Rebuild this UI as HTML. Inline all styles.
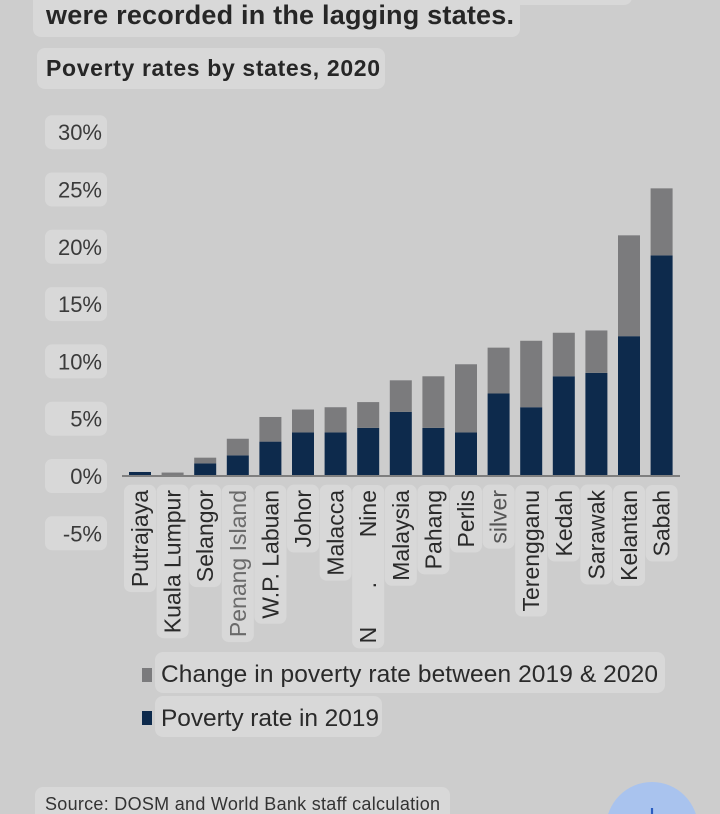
<!DOCTYPE html>
<html><head><meta charset="utf-8">
<style>
html,body{margin:0;padding:0;background:#cdcdcd;width:720px;height:814px;overflow:hidden;}
svg{display:block;font-family:"Liberation Sans","DejaVu Sans",sans-serif;overflow:hidden;}
</style></head>
<body>
<svg id="chart" width="720" height="814" viewBox="0 0 720 814" xmlns="http://www.w3.org/2000/svg">
  <rect x="0" y="0" width="720" height="814" fill="#cdcdcd"/>
  <rect x="370" y="-10" width="262" height="15" rx="8" fill="#d8d8d8"/>
  <rect x="33" y="-10" width="487" height="47" rx="8" fill="#d8d8d8"/>
  <text x="46" y="24" font-size="27" font-weight="bold" fill="#262626" textLength="468">were recorded in the lagging states.</text>
  <rect x="37" y="48" width="348" height="41" rx="8" fill="#d8d8d8"/>
  <text x="46" y="76" font-size="23" font-weight="bold" fill="#262626" textLength="334">Poverty rates by states, 2020</text>
  <g id="yaxis"></g>
  <g id="bars"></g>
  <line x1="122" x2="680" y1="476" y2="476" stroke="#7f7f7f" stroke-width="2"/>
  <g id="xlabels"></g>

  <rect x="155" y="652" width="510" height="41" rx="8" fill="#d8d8d8"/>
  <rect x="142" y="668" width="10" height="14" fill="#7b7b7d"/>
  <text x="161" y="682" font-size="24.5" fill="#2a2a2a" textLength="497">Change in poverty rate between 2019 &amp; 2020</text>
  <rect x="155" y="696" width="227" height="41" rx="8" fill="#d8d8d8"/>
  <rect x="142" y="711" width="10" height="14" fill="#0d2a4c"/>
  <text x="161" y="726" font-size="24.5" fill="#2a2a2a" textLength="218">Poverty rate in 2019</text>

  <rect x="35" y="787" width="415" height="40" rx="8" fill="#d8d8d8"/>
  <text x="45" y="810" font-size="18" fill="#333" textLength="395">Source: DOSM and World Bank staff calculation</text>
  <circle cx="652" cy="828" r="46" fill="#a9c3ee"/>
  <text x="652" y="825" font-size="30" text-anchor="middle" fill="#2a5cc0">+</text>
</svg>
<script>
const categories = ["Putrajaya","Kuala Lumpur","Selangor","Penang Island","W.P. Labuan","Johor","Malacca","N\u00a0\u00a0\u00a0\u00a0\u00a0\u00a0.\u00a0\u00a0\u00a0\u00a0\u00a0\u00a0\u00a0Nine","Malaysia","Pahang","Perlis","silver","Terengganu","Kedah","Sarawak","Kelantan","Sabah"];
const rate2019 = [0.35,0,1.1,1.8,3.0,3.8,3.8,4.2,5.6,4.2,3.8,7.2,6.0,8.7,9.0,12.2,19.25];
const change = [0,0.3,0.5,1.45,2.15,2.0,2.2,2.25,2.75,4.5,5.95,4.0,5.8,3.8,3.7,8.8,5.85];
const yTicks = [30,25,20,15,10,5,0,-5];
const yTickLabels = ["30%","25%","20%","15%","10%","5%","0%","-5%"];

const NS = "http://www.w3.org/2000/svg";
const y0 = 476, pxPer = 57.3/5;
function yScale(v){ return y0 - v*pxPer; }
function xCenter(i){ return 140 + i*32.6; }
const barW = 22;
function mk(tag, attrs){ const e=document.createElementNS(NS,tag); for(const k in attrs) e.setAttribute(k,attrs[k]); return e; }

const yg = document.getElementById('yaxis');
yTicks.forEach((t,i)=>{
  const yy = yScale(t);
  const box = mk('rect',{x:45,y:yy-17,width:62,height:34,rx:7,fill:'#d8d8d8'});
  
  
  yg.appendChild(box);
  const tx = mk('text',{x:102,y:yy+8,'font-size':22,'text-anchor':'end',fill:'#3a3a3a'});
  tx.textContent = yTickLabels[i];
  
  
  yg.appendChild(tx);
});

const bg = document.getElementById('bars');
const lg = document.getElementById('xlabels');
categories.forEach((c,i)=>{
  const xc = xCenter(i);
  const a = rate2019[i], b = change[i];
  if(a>0){
    const r = mk('rect',{x:xc-barW/2,y:yScale(a),width:barW,height:yScale(0)-yScale(a),fill:'#0d2a4c'});
    
    
    bg.appendChild(r);
  }
  if(b>0){
    const r2 = mk('rect',{x:xc-barW/2,y:yScale(a+b),width:barW,height:yScale(a)-yScale(a+b),fill:'#7b7b7d'});
    
    
    bg.appendChild(r2);
  }
  const g = mk('g',{transform:`translate(${xc+8},490) rotate(-90)`});
  const t = mk('text',{x:0,y:0,'font-size':23,'text-anchor':'end',fill: c==="Penang Island" ? '#6a6a6a' : (c==="silver"?'#555':'#2a2a2a')});
  t.textContent = c;
  
  
  g.appendChild(t);
  lg.appendChild(g);
  const bb = t.getBBox();
  const box = mk('rect',{x:bb.x-5,y:bb.y-3,width:bb.width+10,height:bb.height+6,rx:7,fill:'#d8d8d8'});
  
  
  g.insertBefore(box,t);
});
</script>
</body></html>
